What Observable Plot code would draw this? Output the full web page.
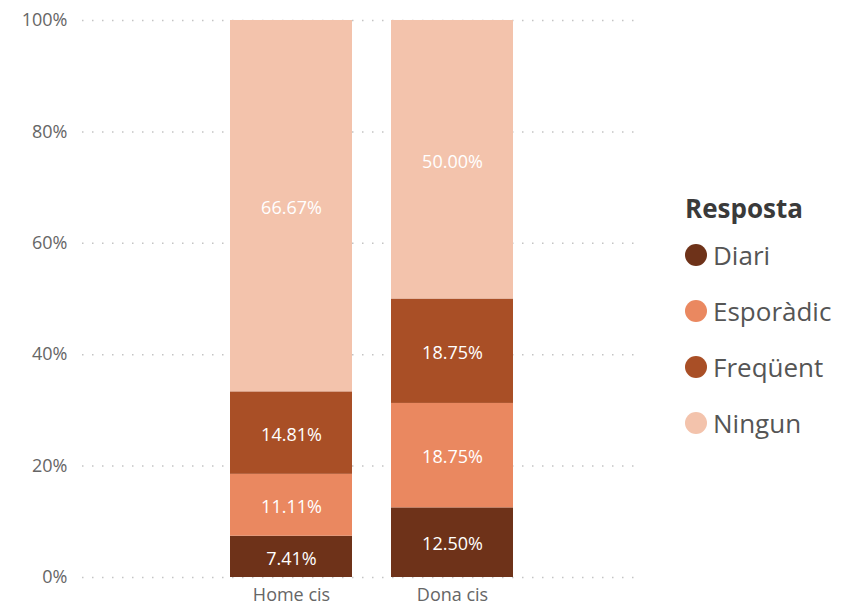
<!DOCTYPE html>
<html>
<head>
<meta charset="utf-8">
<script src="https://cdn.jsdelivr.net/npm/d3@7"></script>
<script src="https://cdn.jsdelivr.net/npm/@observablehq/plot@0.6"></script>
<style>
  html, body { margin: 0; padding: 0; background: #fff; }
  #wrap { position: relative; width: 859px; height: 608px; font-family: "Open Sans", "Noto Sans", sans-serif; }
  #legend { position: absolute; left: 685px; top: 189px; }
  #legend .title { font-weight: bold; font-size: 26px; color: #3a3a3a; height: 38px; line-height: 38px; }
  #legend .item { display: flex; align-items: center; height: 56px; font-size: 26px; color: #555; }
  #legend .sw { width: 22px; height: 22px; border-radius: 50%; margin-right: 6px; }
</style>
</head>
<body>
<div id="wrap"><div id="chart"></div><div id="legend"></div></div>
<script>
const groups = ["Home cis", "Dona cis"];
const responses = ["Diari", "Esporàdic", "Freqüent", "Ningun"];
const colors = ["#6E3219", "#EA8860", "#A94F26", "#F3C3AC"];
const homeValues = [7.41, 11.11, 14.81, 66.67];
const donaValues = [12.50, 18.75, 18.75, 50.00];
const yTicks = [0, 20, 40, 60, 80, 100];
const legendTitle = "Resposta";

const data = [];
responses.forEach((r, i) => {
  data.push({group: groups[0], resp: r, value: homeValues[i]});
  data.push({group: groups[1], resp: r, value: donaValues[i]});
});

const stackOpts = {x: "group", y: "value", z: "resp", order: responses};

const chart = Plot.plot({
  width: 859,
  height: 608,
  marginTop: 20,
  marginBottom: 31,
  marginLeft: 82,
  marginRight: 222,
  style: {fontFamily: "'Open Sans', 'Noto Sans', sans-serif", fontSize: "18px", color: "#666", background: "#fff"},
  x: {domain: groups, paddingInner: 0.245, paddingOuter: 0.84, align: 0.545, label: null, tickSize: 0, tickPadding: 11},
  y: {domain: [0, 100], ticks: yTicks, tickFormat: d => d + "%", label: null, tickSize: 0, tickPadding: 15},
  color: {domain: responses, range: colors},
  marks: [
    Plot.ruleY(yTicks, {stroke: "#c4c4c4", strokeWidth: 1.5, strokeDasharray: "1.5,8.5"}),
    Plot.barY(data, Plot.stackY({...stackOpts, fill: "resp", inset: 0})),
    Plot.text(data, Plot.stackY({...stackOpts, text: d => d.value.toFixed(2) + "%", fill: "#fff", fontSize: 18, dy: 2}))
  ]
});
document.getElementById("chart").appendChild(chart);

const legend = document.getElementById("legend");
const t = document.createElement("div");
t.className = "title"; t.textContent = legendTitle;
legend.appendChild(t);
responses.forEach((r, i) => {
  const it = document.createElement("div");
  it.className = "item";
  const sw = document.createElement("span");
  sw.className = "sw"; sw.style.background = colors[i];
  const lb = document.createElement("span");
  lb.textContent = r;
  it.appendChild(sw); it.appendChild(lb);
  legend.appendChild(it);
});
</script>
</body>
</html>
